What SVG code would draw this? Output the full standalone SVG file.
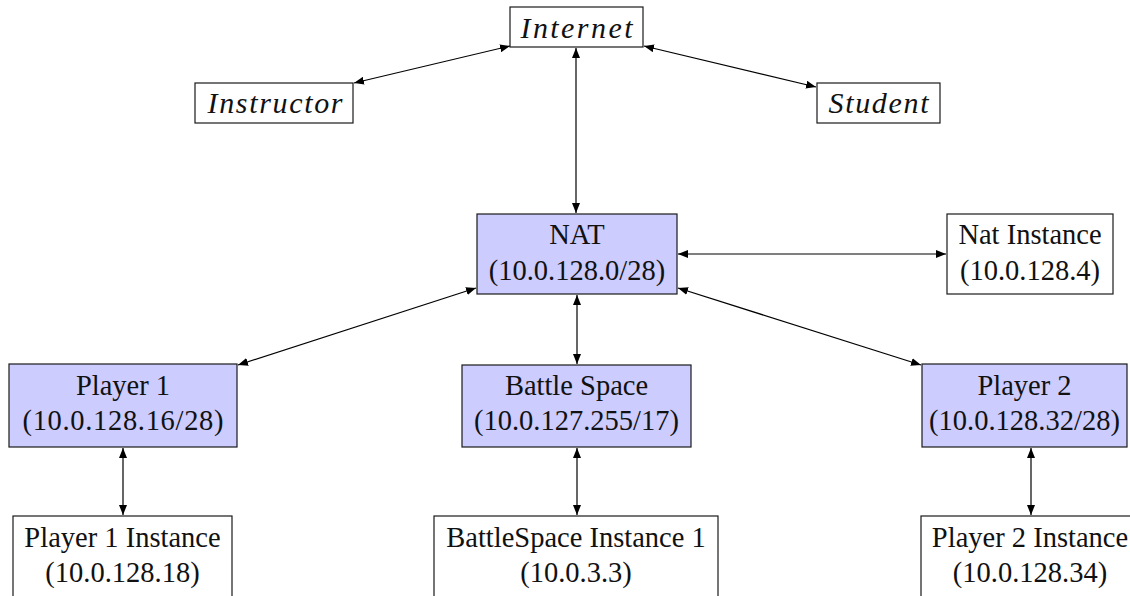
<svg xmlns="http://www.w3.org/2000/svg" width="1130" height="596" viewBox="0 0 1130 596">
  <defs>
    <marker id="tip" viewBox="0 0 10 8" refX="10" refY="4" markerWidth="10" markerHeight="8" markerUnits="userSpaceOnUse" orient="auto-start-reverse">
      <path d="M0,0 L10,4 L0,8 Z" fill="#000"/>
    </marker>
    <style>
      .box { stroke: #1a1a1a; stroke-width: 1.2; fill: #fff; }
      .net { fill: #ccccff; }
      .lbl { font-family: "Liberation Serif", "Times New Roman", serif; font-size: 28.5px; fill: #111; text-anchor: middle; }
      .it { font-style: italic; font-size: 30px; }
      .link { stroke: #000; stroke-width: 1.2; fill: none; marker-start: url(#tip); marker-end: url(#tip); }
    </style>
  </defs>

  <rect width="1130" height="596" fill="#fff"/>

  <g id="connectors">
    <line class="link" x1="354" y1="83" x2="510" y2="46"/>
    <line class="link" x1="644" y1="46" x2="816" y2="87"/>
    <line class="link" x1="576" y1="48" x2="576" y2="213"/>
    <line class="link" x1="678" y1="254" x2="946" y2="254"/>
    <line class="link" x1="238" y1="365" x2="476" y2="288"/>
    <line class="link" x1="577" y1="295" x2="577" y2="364"/>
    <line class="link" x1="678" y1="288" x2="921" y2="365"/>
    <line class="link" x1="123" y1="448" x2="123" y2="515"/>
    <line class="link" x1="577" y1="448" x2="577" y2="515"/>
    <line class="link" x1="1031" y1="448" x2="1031" y2="515"/>
  </g>

  <g id="internet">
    <rect class="box" x="510" y="7" width="133" height="40"/>
    <text class="lbl it" x="576.5" y="38" textLength="112" lengthAdjust="spacing">Internet</text>
  </g>

  <g id="instructor">
    <rect class="box" x="195" y="83" width="158" height="40"/>
    <text class="lbl it" x="275" y="113" textLength="135" lengthAdjust="spacing">Instructor</text>
  </g>

  <g id="student">
    <rect class="box" x="817" y="83" width="123" height="40"/>
    <text class="lbl it" x="878.5" y="113" textLength="100" lengthAdjust="spacing">Student</text>
  </g>

  <g id="nat">
    <rect class="box net" x="477" y="214" width="200" height="80"/>
    <text class="lbl" x="577" y="244">NAT</text>
    <text class="lbl" x="577" y="280">(10.0.128.0/28)</text>
  </g>

  <g id="nat-instance">
    <rect class="box" x="947" y="214" width="166" height="80"/>
    <text class="lbl" x="1030" y="244">Nat Instance</text>
    <text class="lbl" x="1030" y="280">(10.0.128.4)</text>
  </g>

  <g id="player1">
    <rect class="box net" x="9" y="364" width="228" height="83"/>
    <text class="lbl" x="123" y="395">Player 1</text>
    <text class="lbl" x="123" y="430" textLength="201" lengthAdjust="spacing">(10.0.128.16/28)</text>
  </g>

  <g id="battle-space">
    <rect class="box net" x="462" y="365" width="229" height="82"/>
    <text class="lbl" x="576.5" y="395">Battle Space</text>
    <text class="lbl" x="576.5" y="430">(10.0.127.255/17)</text>
  </g>

  <g id="player2">
    <rect class="box net" x="922" y="364" width="205" height="83"/>
    <text class="lbl" x="1024.5" y="395">Player 2</text>
    <text class="lbl" x="1024.5" y="430">(10.0.128.32/28)</text>
  </g>

  <g id="player1-instance">
    <rect class="box" x="13" y="516" width="219" height="100"/>
    <text class="lbl" x="122.5" y="547">Player 1 Instance</text>
    <text class="lbl" x="122.5" y="582">(10.0.128.18)</text>
  </g>

  <g id="battlespace-instance">
    <rect class="box" x="434" y="516" width="284" height="100"/>
    <text class="lbl" x="576" y="547">BattleSpace Instance 1</text>
    <text class="lbl" x="576" y="582">(10.0.3.3)</text>
  </g>

  <g id="player2-instance">
    <rect class="box" x="921" y="516" width="219" height="100"/>
    <text class="lbl" x="1030" y="547">Player 2 Instance</text>
    <text class="lbl" x="1030" y="582">(10.0.128.34)</text>
  </g>
</svg>
